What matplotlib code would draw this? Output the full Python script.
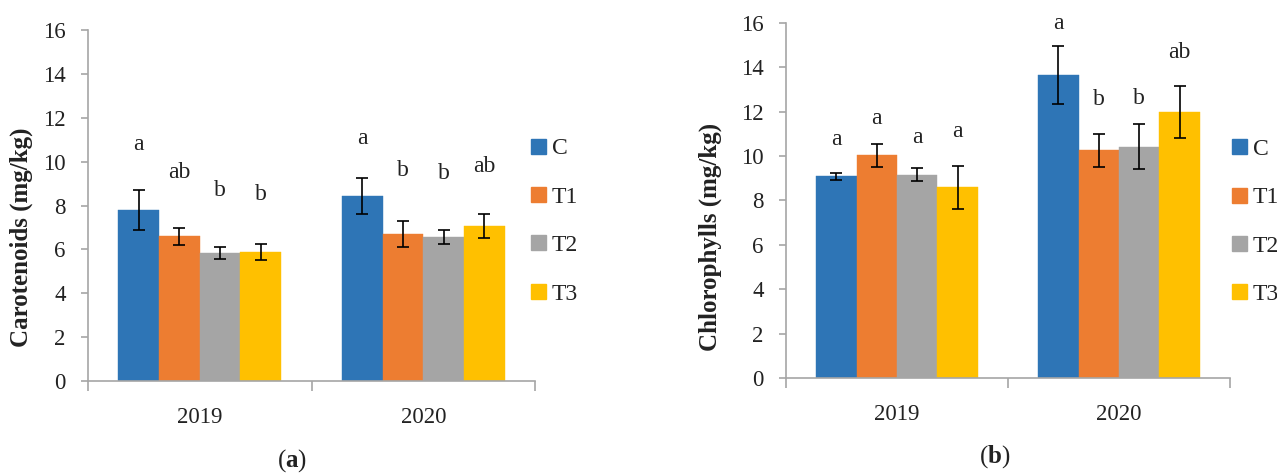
import matplotlib
matplotlib.use("Agg")
import matplotlib.pyplot as plt
import numpy as np
from matplotlib.patches import Patch

plt.rcParams['font.family'] = ['Liberation Serif', 'DejaVu Serif']
plt.rcParams['mathtext.fontset'] = 'custom'
plt.rcParams['mathtext.rm'] = 'Liberation Serif'
plt.rcParams['mathtext.bf'] = 'Liberation Serif:bold'

years = ["2019", "2020"]
treatments = ["C", "T1", "T2", "T3"]
colors = ["#2E75B6", "#ED7D31", "#A5A5A5", "#FFC000"]

# Panel (a): Carotenoids
car_mean = {"C": [7.80, 8.45], "T1": [6.59, 6.70], "T2": [5.82, 6.57], "T3": [5.88, 7.06]}
car_err = {"C": [0.90, 0.82], "T1": [0.37, 0.58], "T2": [0.27, 0.32], "T3": [0.37, 0.55]}
car_letters = {"C": ["a", "a"], "T1": ["ab", "b"], "T2": ["b", "b"], "T3": ["b", "ab"]}
car_letter_y = {"C": [10.8, 11.05], "T1": [9.5, 9.6], "T2": [8.7, 9.45], "T3": [8.5, 9.8]}

# Panel (b): Chlorophylls
chl_mean = {"C": [9.08, 13.65], "T1": [10.02, 10.25], "T2": [9.15, 10.42], "T3": [8.58, 11.97]}
chl_err = {"C": [0.17, 1.30], "T1": [0.50, 0.75], "T2": [0.30, 1.01], "T3": [0.98, 1.17]}
chl_letters = {"C": ["a", "a"], "T1": ["a", "b"], "T2": ["a", "b"], "T3": ["a", "ab"]}
chl_letter_y = {"C": [10.75, 15.95], "T1": [11.68, 12.55], "T2": [10.83, 12.58], "T3": [11.08, 14.68]}

yticks = [0, 2, 4, 6, 8, 10, 12, 14, 16]

W, H = 1277, 474
fig = plt.figure(figsize=(W / 100, H / 100), dpi=100)

spine_col = "#A6A6A6"
txt_col = "#222222"
bw = 0.182


def panel(rect, means, errs, letters, letter_y, ylabel, legend_anchor, caption, cap_xy, ylabel_x):
    ax = fig.add_axes(rect)
    x = np.arange(len(years))
    for i, t in enumerate(treatments):
        pos = x + (i - 1.5) * bw
        ax.bar(pos, means[t], width=bw, color=colors[i], label=t, zorder=2,
               edgecolor=colors[i], linewidth=0.3)
        ax.errorbar(pos, means[t], yerr=errs[t], fmt="none", ecolor="black",
                    elinewidth=1.2, capsize=4.3, capthick=1.2, zorder=3)
        for j in range(len(years)):
            ax.text(pos[j], letter_y[t][j], letters[t][j], ha="center", va="center",
                    fontsize=17, color=txt_col)
    ax.set_xlim(-0.5, 1.5)
    ax.set_ylim(0, 16)
    ax.set_yticks(yticks)
    ax.set_yticklabels([str(v) for v in yticks], fontsize=16.5, color=txt_col)
    ax.set_xticks(x)
    ax.set_xticklabels(years, fontsize=16.5, color=txt_col)
    ax.set_xticks([-0.5, 0.5, 1.5], minor=True)
    ax.tick_params(axis="x", which="major", length=0, pad=19)
    ax.tick_params(axis="x", which="minor", length=7.5, color=spine_col, width=1.2, direction="out")
    ax.tick_params(axis="y", length=5, color=spine_col, width=1.2, direction="out", pad=11)
    for s in ["top", "right"]:
        ax.spines[s].set_visible(False)
    for s in ["left", "bottom"]:
        ax.spines[s].set_color(spine_col)
        ax.spines[s].set_linewidth(1.2)
    ax.set_ylabel(ylabel, fontsize=18, fontweight="bold", color=txt_col)
    ax.yaxis.set_label_coords(ylabel_x, 0.5, transform=fig.transFigure)
    handles = [Patch(facecolor=c, edgecolor=c) for c in colors]
    fig.legend(handles, treatments, loc="upper left", bbox_to_anchor=legend_anchor,
               bbox_transform=fig.transFigure, frameon=False, fontsize=17,
               handlelength=0.64, handleheight=0.6, handletextpad=0.25,
               labelspacing=1.16, borderaxespad=0, borderpad=0)
    for t in fig.legends[-1].get_texts():
        t.set_color(txt_col)
    fig.text(cap_xy[0], cap_xy[1], r"($\mathbf{" + caption + r"}$)", ha="center", va="center",
             fontsize=18, color=txt_col)
    return ax


panel([88 / W, (H - 381) / H, (535 - 88) / W, (381 - 30) / H],
      car_mean, car_err, car_letters, car_letter_y, "Carotenoids (mg/kg)",
      (531 / W, 1 - 138.5 / H), "a", (292 / W, 1 - 461 / H), 33 / W)
panel([786 / W, (H - 378) / H, (1230 - 786) / W, (378 - 22.7) / H],
      chl_mean, chl_err, chl_letters, chl_letter_y, "Chlorophylls (mg/kg)",
      (1232 / W, 1 - 139 / H), "b", (995 / W, 1 - 457 / H), 722 / W)

fig.savefig("out.png", dpi=100, facecolor="white")
